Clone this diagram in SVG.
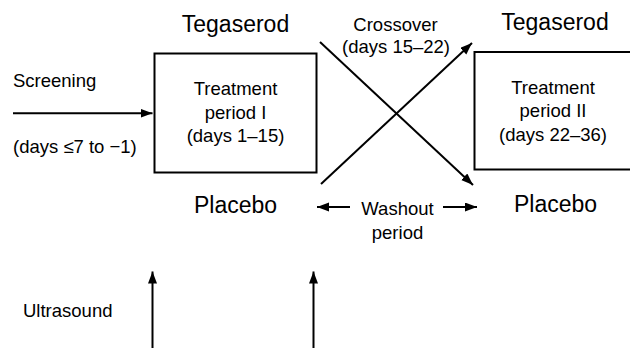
<svg xmlns="http://www.w3.org/2000/svg" width="630" height="348" viewBox="0 0 630 348">
<style>
text { font-family: "Liberation Sans", Arial, sans-serif; fill: #000; }
.big { font-size: 23px; }
.sm { font-size: 18.5px; }
.c { text-anchor: middle; }
.box { fill: #fff; stroke: #000; stroke-width: 2; }
.ln { stroke: #000; stroke-width: 2; fill: none; marker-end: url(#ah); }
</style>
<defs>
<marker id="ah" markerUnits="userSpaceOnUse" markerWidth="13" markerHeight="10" refX="12" refY="4.5" orient="auto">
<path d="M0,0 L12,4.5 L0,9 z" fill="#000"/>
</marker>
</defs>
<rect width="630" height="348" fill="#fff"/>
<g id="connectors">
<line class="ln" x1="13" y1="113.3" x2="152.5" y2="113.3"/>
<line class="ln" x1="320" y1="42" x2="473" y2="185"/>
<line class="ln" x1="321" y1="184" x2="472" y2="43"/>
<line class="ln" x1="350" y1="207" x2="317" y2="207"/>
<line class="ln" x1="443" y1="207" x2="477" y2="207"/>
<line class="ln" x1="152.5" y1="348" x2="152.5" y2="271.5"/>
<line class="ln" x1="313.5" y1="348" x2="313.5" y2="271.5"/>
</g>
<g id="screening">
<text class="sm" x="13" y="86.7">Screening</text>
<text class="sm" x="13" y="153">(days ≤7 to −1)</text>
</g>
<g id="period1">
<rect class="box" x="154.5" y="53.5" width="162" height="119"/>
<text class="sm c" x="235.5" y="95">Treatment</text>
<text class="sm c" x="235.5" y="118.5">period I</text>
<text class="sm c" x="235.5" y="142">(days 1–15)</text>
</g>
<g id="period2">
<rect class="box" x="474.5" y="52" width="170" height="117.5"/>
<text class="sm c" x="553" y="94">Treatment</text>
<text class="sm c" x="553" y="117">period II</text>
<text class="sm c" x="553" y="140.5">(days 22–36)</text>
</g>
<g id="tegaserod1"><text class="big c" x="235.5" y="32">Tegaserod</text></g>
<g id="tegaserod2"><text class="big c" x="555" y="29.5">Tegaserod</text></g>
<g id="placebo1"><text class="big c" x="235.5" y="213">Placebo</text></g>
<g id="placebo2"><text class="big c" x="555.5" y="212">Placebo</text></g>
<g id="crossover">
<text class="sm c" x="395.5" y="30.7">Crossover</text>
<text class="sm c" x="396" y="53">(days 15–22)</text>
</g>
<g id="washout">
<text class="sm c" x="397.5" y="215">Washout</text>
<text class="sm c" x="397.5" y="238.5">period</text>
</g>
<g id="ultrasound"><text class="sm" x="23" y="316.7">Ultrasound</text></g>
</svg>
